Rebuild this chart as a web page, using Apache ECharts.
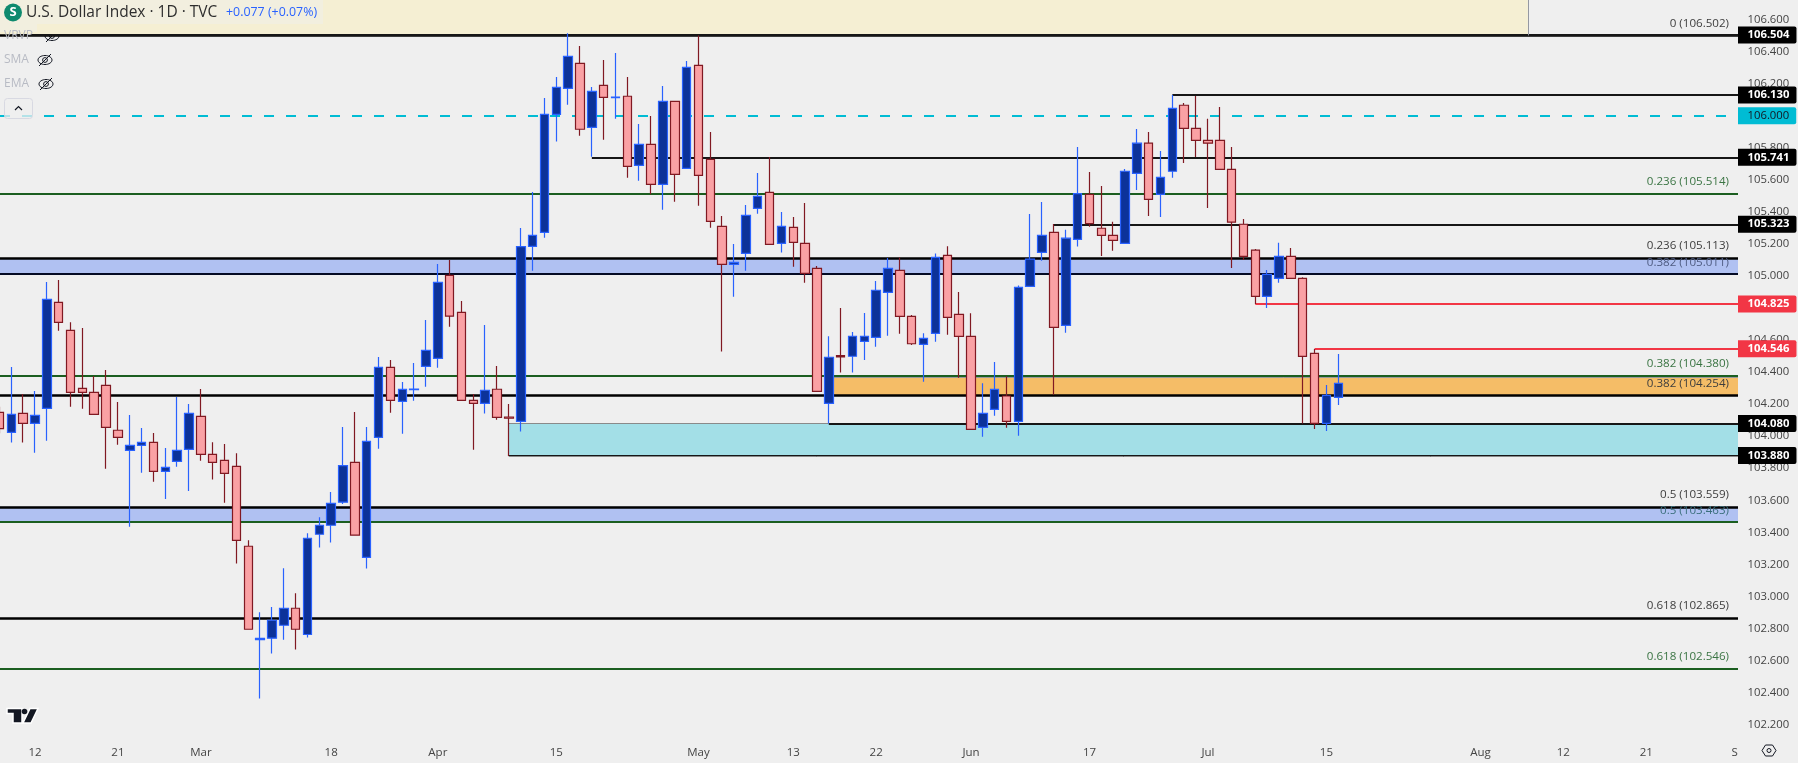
<!DOCTYPE html>
<html>
<head>
<meta charset="utf-8">
<title>U.S. Dollar Index</title>
<script src="https://cdn.jsdelivr.net/npm/echarts@6/dist/echarts.min.js"></script>
<style>
  html, body { margin: 0; padding: 0; background: #efefef; }
  #main { width: 1798px; height: 763px; }
</style>
</head>
<body>
<div id="main"></div>
<script>
// daily candles, Feb 7 to Jul 16
const opens = [104.149,104.024,104.143,104.080,104.174,104.835,104.661,104.299,104.274,104.317,104.037,103.912,103.943,103.962,103.781,103.843,103.918,104.124,103.887,103.849,103.812,
  103.313,102.730,102.739,102.820,102.926,102.762,103.388,103.444,103.588,103.837,103.244,103.993,104.430,104.218,104.290,104.436,104.486,
  105.004,104.773,104.224,104.205,104.293,104.120,104.093,105.185,105.273,106.009,106.171,106.328,105.928,106.190,106.113,106.122,105.691,105.822,105.572,106.090,105.672,106.315,
  105.728,105.310,105.073,105.141,105.422,105.522,105.204,105.304,105.204,105.048,104.205,104.503,104.499,104.592,104.617,
  104.898,105.035,104.748,104.573,104.642,105.129,104.760,104.623,104.055,104.167,104.251,104.093,104.935,105.148,105.273,104.692,105.229,105.510,105.298,105.254,105.204,105.641,105.829,105.510,105.654,
  106.066,105.922,105.847,105.847,105.666,105.323,105.161,104.873,104.985,105.122,104.985,104.517,104.080,104.242];
const closes = [104.047,104.136,104.080,104.130,104.854,104.711,104.274,104.274,104.136,104.055,103.993,103.943,103.962,103.781,103.806,103.912,104.143,103.887,103.837,103.768,103.350,
  102.795,102.738,102.851,102.926,102.795,103.363,103.444,103.581,103.816,103.382,103.968,104.430,104.224,104.292,104.294,104.536,104.960,
  104.749,104.224,104.205,104.287,104.118,104.112,105.183,105.254,106.009,106.178,106.371,105.916,106.153,106.115,106.117,105.685,105.822,105.572,106.090,105.635,106.303,105.628,
  105.341,105.073,105.085,105.379,105.497,105.198,105.310,105.210,105.017,104.280,104.493,104.495,104.624,104.624,104.911,
  105.048,104.748,104.577,104.611,105.116,104.742,104.623,104.043,104.142,104.292,104.093,104.929,105.106,105.254,104.679,105.236,105.514,105.327,105.254,105.223,105.654,105.829,105.479,105.616,106.047,
  105.922,105.847,105.829,105.666,105.336,105.123,104.873,105.010,105.122,104.985,104.498,104.080,104.255,104.330];
const lows = [104.018,103.960,103.960,103.897,103.972,104.659,104.184,104.172,104.136,103.797,103.947,103.435,103.772,103.716,103.608,103.810,103.658,103.847,103.729,103.585,103.206,
  102.795,102.362,102.643,102.730,102.668,102.743,103.305,103.336,103.577,103.382,103.174,103.922,104.147,104.016,104.222,104.309,104.428,
  104.684,104.224,103.916,104.141,104.103,103.877,104.029,105.033,105.239,105.839,106.069,105.876,105.745,105.851,105.982,105.614,105.595,105.510,105.414,105.464,105.672,105.439,
  105.302,104.528,104.871,105.033,105.389,105.198,105.146,105.058,104.958,104.280,104.079,104.397,104.397,104.476,104.559,
  104.627,104.640,104.569,104.340,104.590,104.633,104.365,104.043,103.997,104.128,104.053,104.003,104.935,105.096,104.259,104.646,105.184,105.308,105.125,105.157,105.204,105.537,105.375,105.369,105.614,
  105.706,105.743,105.425,105.666,105.050,105.100,104.825,104.800,104.958,104.985,104.080,104.045,104.032,104.194];
const highs = [104.184,104.432,104.263,104.282,104.962,104.975,104.711,104.675,104.376,104.413,104.213,104.132,104.051,104.020,103.926,104.245,104.201,104.295,103.962,103.951,103.893,
  103.350,102.901,102.934,103.176,103.020,103.394,103.494,103.652,104.057,104.151,104.057,104.494,104.476,104.338,104.457,104.725,105.075,
  105.100,104.844,104.264,104.694,104.438,104.201,105.300,105.524,106.111,106.242,106.515,106.436,106.180,106.348,106.392,106.242,105.949,105.999,106.186,106.090,106.342,106.502,
  105.899,105.375,105.200,105.443,105.643,105.743,105.399,105.368,105.456,105.062,104.624,104.801,104.651,104.769,104.969,
  105.112,105.116,104.756,104.642,105.141,105.185,104.900,104.767,104.330,104.463,104.375,104.941,105.387,105.462,105.325,105.288,105.806,105.650,105.562,105.338,105.668,105.918,105.899,105.781,106.130,
  106.080,106.124,105.981,106.055,105.806,105.356,105.169,105.037,105.207,105.175,104.993,104.544,104.319,104.513];

const priceTicks = [102.2,102.4,102.6,102.8,103,103.2,103.4,103.6,103.8,104,104.2,104.4,104.6,104.8,105,105.2,105.4,105.6,105.8,106,106.2,106.4,106.6];
const timeTickBars = [3,10,17,28,37,47,59,67,74,82,92,102,112,125,132,139,146.45];
const timeTickLabels = ['12','21','Mar','18','Apr','15','May','13','22','Jun','17','Jul','15','Aug','12','21','S'];
const monthLabels = ['Mar','Apr','May','Jun','Jul','Aug','S'];

// fib retracement levels
const blackFibRatios = ['0','0.236','0.382','0.5','0.618'];
const blackFibPrices = [106.502,105.113,104.254,103.559,102.865];
const greenFibRatios = ['0.236','0.382','0.5','0.618'];
const greenFibPrices = [105.514,104.380,103.463,102.546];
const thirdFibRatio = '0.382';
const thirdFibPrice = 105.011;

// support / resistance levels with a price tag on the axis
const blackLevels = [106.504,106.130,105.741,105.323,104.080,103.880];
const blackLevelStarts = [1,99,50,89,70,43];
const redLevels = [104.825,104.546];
const redLevelStarts = [106,111];
const dashedLevel = 106.000;

const upperBand = [105.113,105.011];
const lowerBand = [103.559,103.463];
const orangeZone = [104.380,104.254];
const orangeStart = 70;
const cyanZone = [104.080,103.880];
const cyanStart = 43;
const creamEnd = 129;

const xMin = 0.046, xMax = 146.74;
const yMin = 102.116, yMax = 106.723;
const FONT = '"Open Sans", sans-serif';

function seg(x0, x1, y, color, width, extra) {
  return [Object.assign({ coord: [x0, y], lineStyle: { color: color, width: width, type: 'solid', opacity: 1 }, label: { show: false } }, extra || {}),
    { coord: [x1, y] }];
}

function tag(text, bg, fg, bold) {
  return { label: {
    show: true, position: 'end', distance: 0, formatter: text, color: fg, backgroundColor: bg,
    fontFamily: FONT, fontSize: 11.3, fontWeight: bold ? 'bold' : 'normal',
    padding: [2, 7, 2, 9.5], lineHeight: 13, borderRadius: [0, 2, 2, 0]
  } };
}

function fibLabel(ratio, price, color) {
  return { label: {
    show: true, position: 'insideEndTop', distance: [9, 6], formatter: ratio + ' (' + price.toFixed(3) + ')',
    color: color, fontFamily: FONT, fontSize: 11.6
  } };
}

const levelLines = [];
blackFibPrices.forEach((p, i) => levelLines.push(seg(xMin, xMax, p, '#000000', 2.5, fibLabel(blackFibRatios[i], p, '#3d3d3d'))));
greenFibPrices.forEach((p, i) => levelLines.push(seg(xMin, xMax, p, '#1b5e20', 2, fibLabel(greenFibRatios[i], p, p === 103.463 ? '#3b6f7c' : '#3a7443'))));
levelLines.push(seg(xMin, xMax, thirdFibPrice, '#040a24', 2, fibLabel(thirdFibRatio, thirdFibPrice, '#4f5c82')));
blackLevels.forEach((p, i) => levelLines.push(seg(blackLevelStarts[i], xMax, p, '#161616', 2, tag(p.toFixed(3), '#000000', '#ffffff', true))));
redLevels.forEach((p, i) => levelLines.push(seg(redLevelStarts[i], xMax, p, '#f23645', 2, tag(p.toFixed(3), '#f23645', '#ffffff', true))));
levelLines.push([{ coord: [xMin, dashedLevel], lineStyle: { color: '#00bcd4', width: 2, type: [10, 12], opacity: 1 },
  label: tag(dashedLevel.toFixed(3), '#00bcd4', '#131722', false).label }, { coord: [xMax, dashedLevel] }]);
// thin grey zone edges
levelLines.push(seg(cyanStart, 70, cyanZone[0], '#8a8a8a', 1));
levelLines.push(seg(cyanStart, xMax, cyanZone[1] - 0.004, '#8a8a8a', 1));
levelLines.push(seg(orangeStart, xMax, orangeZone[0] - 0.012, '#9a9a9a', 1));
// right edge of the cream strip
levelLines.push([{ coord: [creamEnd, blackFibPrices[0]], lineStyle: { color: '#9598a1', width: 1, type: 'solid', opacity: 1 }, label: { show: false } }, { coord: [creamEnd, yMax] }]);

function area(x0, x1, band, color) {
  return [{ coord: [x0, band[0]], itemStyle: { color: color, opacity: 1 } }, { coord: [x1, band[1]] }];
}

const candles = opens.map((o, i) => [i, o, closes[i], lows[i], highs[i]]);

function eye(cx, cy) {
  return { type: 'group', x: cx, y: cy, children: [
    { type: 'ellipse', shape: { cx: 0, cy: 0, rx: 7, ry: 4.5 }, style: { fill: 'none', stroke: '#131722', lineWidth: 1 } },
    { type: 'circle', shape: { cx: 0, cy: 0, r: 2.4 }, style: { fill: 'none', stroke: '#131722', lineWidth: 1 } },
    { type: 'line', shape: { x1: -6, y1: 6, x2: 6, y2: -6 }, style: { stroke: '#131722', lineWidth: 1 } }
  ] };
}

function legendText(text, x, y) {
  return { type: 'text', x: x, y: y, style: { text: text, fill: '#b8bbc4', font: '12px ' + FONT, textVerticalAlign: 'middle' } };
}

const chart = echarts.init(document.getElementById('main'), null, { renderer: 'canvas' });

chart.setOption({
  animation: false,
  backgroundColor: '#efefef',
  grid: { left: 0, right: 60, top: 0, height: 738 },
  xAxis: {
    type: 'value', min: xMin, max: xMax,
    axisLine: { show: false }, axisTick: { show: false }, splitLine: { show: false },
    axisLabel: {
      customValues: timeTickBars, margin: 9, fontFamily: FONT, fontSize: 11.5, hideOverlap: false,
      formatter: v => timeTickLabels[timeTickBars.indexOf(v)],
      color: v => monthLabels.indexOf(timeTickLabels[timeTickBars.indexOf(v)]) >= 0 ? '#131722' : '#444444'
    }
  },
  yAxis: {
    type: 'value', position: 'right', min: yMin, max: yMax, scale: true,
    axisLine: { show: false }, axisTick: { show: false }, splitLine: { show: false },
    axisLabel: { customValues: priceTicks, margin: 9.5, color: '#444444', fontFamily: FONT, fontSize: 11.3, formatter: v => v.toFixed(3) }
  },
  series: [
    {
      type: 'line', data: [], silent: true, clip: false,
      markArea: {
        silent: true, z: 1,
        data: [
          [{ coord: [xMin, yMax], itemStyle: { color: '#f5efd3', opacity: 1 } }, { coord: [creamEnd, blackFibPrices[0]] }],
          area(xMin, xMax, upperBand, '#b0c1f2'),
          area(xMin, xMax, lowerBand, '#b0c1f2'),
          area(orangeStart, xMax, orangeZone, '#f5bd67'),
          area(cyanStart, xMax, cyanZone, '#a3dfe7')
        ]
      },
      markLine: { silent: true, z: 5, symbol: 'none', animation: false, data: levelLines }
    },
    {
      type: 'candlestick', z: 10, barWidth: 9, silent: true,
      data: candles,
      itemStyle: { color: '#0c3299', color0: '#faa1a4', borderColor: '#2962ff', borderColor0: '#801922', borderWidth: 1.2 }
    }
  ],
  graphic: [
    { type: 'rect', z: 100, shape: { x: 0, y: 0, width: 323, height: 24 }, style: { fill: '#f2efdf' } },
    { type: 'rect', z: 100, shape: { x: 0, y: 24, width: 37, height: 8 }, style: { fill: '#f2efdf' } },
    { type: 'circle', z: 101, shape: { cx: 13, cy: 12.5, r: 9 }, style: { fill: '#0e8a6e' } },
    { type: 'text', z: 102, x: 13, y: 12.5, style: { text: 'S', fill: '#ffffff', font: 'bold 13px ' + FONT, textAlign: 'center', textVerticalAlign: 'middle' } },
    { type: 'text', z: 102, x: 26, y: 12.5, style: { text: 'U.S. Dollar Index · 1D · TVC', fill: '#2e2e2e', font: '15.5px ' + FONT, textVerticalAlign: 'middle' } },
    { type: 'text', z: 102, x: 226, y: 12.5, style: { text: '+0.077 (+0.07%)', fill: '#2962ff', font: '12.4px ' + FONT, textVerticalAlign: 'middle' } },
    Object.assign(legendText('VRVP', 4, 36), { z: 102 }),
    Object.assign(legendText('SMA', 4, 60), { z: 102 }),
    Object.assign(legendText('EMA', 4, 84), { z: 102 }),
    Object.assign(eye(52, 36), { z: 102 }),
    Object.assign(eye(45, 60), { z: 102 }),
    Object.assign(eye(46, 84), { z: 102 }),
    { type: 'rect', z: 102, shape: { x: 4.5, y: 98.5, width: 28, height: 20, r: 3 }, style: { fill: 'rgba(239,239,239,0.75)', stroke: '#d8d9e2', lineWidth: 1 } },
    { type: 'polyline', z: 103, shape: { points: [[15, 110], [18.5, 106.5], [22, 110]] }, style: { fill: 'none', stroke: '#131722', lineWidth: 1.2 } },
    // tradingview mark
    { type: 'polygon', z: 102, shape: { points: [[7, 708.5], [22, 708.5], [22, 723], [13, 723], [13, 713.5], [7, 713.5]] }, style: { fill: '#131722', stroke: '#ffffff', lineWidth: 1.5 } },
    { type: 'polygon', z: 102, shape: { points: [[30, 708.5], [38, 708.5], [31, 723], [23, 723]] }, style: { fill: '#131722', stroke: '#ffffff', lineWidth: 1.5 } },
    { type: 'circle', z: 103, shape: { cx: 24.5, cy: 711.5, r: 2.8 }, style: { fill: '#131722' } },
    // settings hexagon
    { type: 'polygon', z: 102, shape: { points: [[1762, 750.5], [1765.5, 745], [1772.5, 745], [1776, 750.5], [1772.5, 756], [1765.5, 756]] }, style: { fill: 'none', stroke: '#131722', lineWidth: 1 } },
    { type: 'circle', z: 102, shape: { cx: 1769, cy: 750.5, r: 2 }, style: { fill: 'none', stroke: '#131722', lineWidth: 1 } }
  ]
});
</script>
</body>
</html>
